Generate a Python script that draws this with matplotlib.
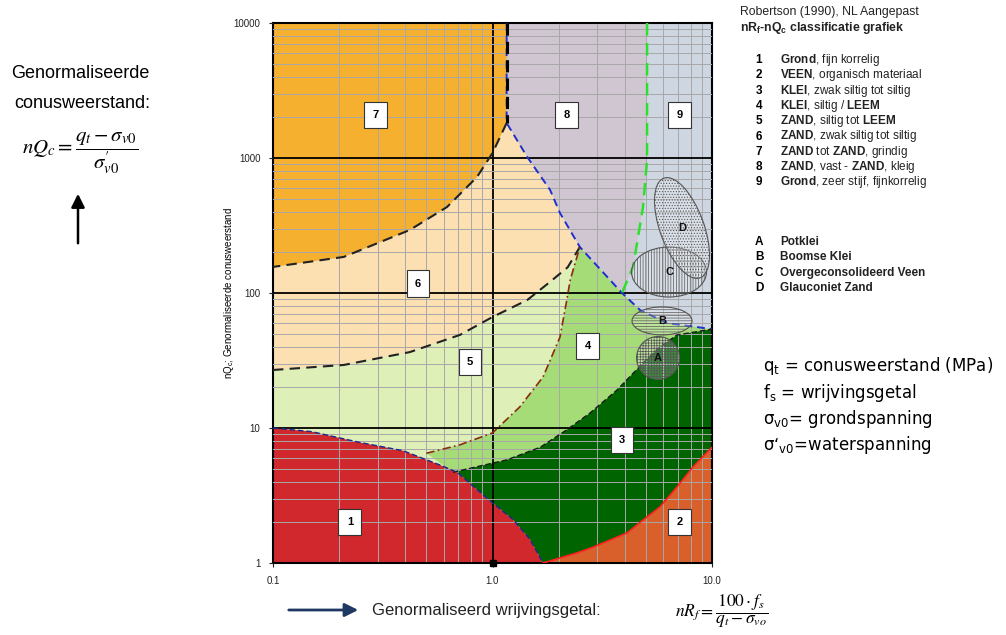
import numpy as np
import matplotlib.pyplot as plt
from matplotlib.patches import Ellipse
from matplotlib.transforms import IdentityTransform
from matplotlib.ticker import NullFormatter

plt.rcParams['font.family'] = ['Liberation Sans', 'DejaVu Sans']
plt.rcParams['mathtext.fontset'] = 'custom'
plt.rcParams['mathtext.rm'] = 'Liberation Sans'
plt.rcParams['mathtext.bf'] = 'Liberation Sans:bold'
plt.rcParams['mathtext.it'] = 'Liberation Sans:italic'
plt.rcParams['hatch.linewidth'] = 0.5

# grensen tussen de zones (nRf, nQc)
red_x = [0.1, 0.15, 0.25, 0.39, 0.58, 0.69, 0.97, 1.24, 1.48, 1.70]
red_y = [10, 9.4, 7.8, 6.8, 5.3, 4.7, 2.9, 2.1, 1.5, 1.0]

veen_x = [1.70, 2.43, 2.87, 4.10, 4.85, 5.79, 6.93, 8.19, 10]
veen_y = [1.0, 1.19, 1.31, 1.67, 2.08, 2.60, 3.66, 5.14, 7.2]

klei_x = [0.66, 0.82, 1.16, 1.65, 2.18, 2.78, 3.69, 4.85, 5.79, 6.93, 10]
klei_y = [4.7, 5.1, 5.8, 7.2, 9.7, 12.9, 19.1, 30.3, 39.8, 48.9, 54]

blue_x = [1.16, 1.16, 1.44, 1.83, 2.03, 2.50, 3.89, 4.70, 6.24, 10]
blue_y = [10000, 1816, 1017, 580, 391, 219, 100, 74.8, 59.9, 54]

green_x = [5.06, 5.06, 4.85, 4.37, 3.89]
green_y = [10000, 967, 433, 156, 100]

z76_x = [1.16, 1.0, 0.85, 0.62, 0.42, 0.21, 0.1]
z76_y = [1816, 1089, 723, 433, 293, 185, 156]

z56_x = [0.1, 0.21, 0.42, 0.71, 1.0, 1.44, 1.83, 2.2, 2.5]
z56_y = [26.9, 29.3, 36.5, 48.9, 66.4, 88.7, 121, 155, 219]

dd_x = [0.50, 0.71, 1.0, 1.33, 1.70, 2.03, 2.18, 2.26, 2.50]
dd_y = [6.5, 7.5, 9.2, 14.3, 23.9, 47.2, 88.7, 125, 219]

# zone labels
lab_txt = ['1', '2', '3', '4', '5', '6', '7', '8', '9']
lab_x = [0.224, 7.14, 3.89, 2.72, 0.79, 0.458, 0.294, 2.18, 7.14]
lab_y = [2.01, 2.01, 8.15, 40.5, 30.8, 117, 2083, 2083, 2083]

# ellipsen A-D
ell_txt = ['A', 'B', 'C', 'D']
ell_x = [5.68, 5.92, 6.37, 7.30]
ell_y = [33.0, 62.1, 143, 303]

dot_x = [1.0]
dot_y = [1.0]

legend_num = ['1', '2', '3', '4', '5', '6', '7', '8', '9']
legend_txt = [r'$\mathbf{Grond}$, fijn korrelig',
              r'$\mathbf{VEEN}$, organisch materiaal',
              r'$\mathbf{KLEI}$, zwak siltig tot siltig',
              r'$\mathbf{KLEI}$, siltig / $\mathbf{LEEM}$',
              r'$\mathbf{ZAND}$, siltig tot $\mathbf{LEEM}$',
              r'$\mathbf{ZAND}$, zwak siltig tot siltig',
              r'$\mathbf{ZAND}$ tot $\mathbf{ZAND}$, grindig',
              r'$\mathbf{ZAND}$, vast - $\mathbf{ZAND}$, kleig',
              r'$\mathbf{Grond}$, zeer stijf, fijnkorrelig']
legend2_num = ['A', 'B', 'C', 'D']
legend2_txt = ['Potklei', 'Boomse Klei', 'Overgeconsolideerd Veen', 'Glauconiet Zand']

col = {1: '#d0282c', 2: '#d9602a', 3: '#006400', 4: '#a6dc78', 5: '#def0b8',
       6: '#fde0b2', 7: '#f6b030', 8: '#cfc6d2', 9: '#ced6e2'}


def main():
    W, H = 1006, 635
    fig = plt.figure(figsize=(W / 100, H / 100), dpi=100)
    ax = fig.add_axes([273 / W, 1 - 563 / H, 439 / W, 540 / H])
    ax.set_xscale('log')
    ax.set_yscale('log')
    ax.set_xlim(0.1, 10)
    ax.set_ylim(1, 10000)

    # vlakken
    ax.fill([0.1, 10, 10, 0.1], [1, 1, 10000, 10000], color=col[9], lw=0, zorder=1)
    ax.fill(blue_x[:7] + green_x[::-1][1:], blue_y[:7] + green_y[::-1][1:],
            color=col[8], lw=0, zorder=1)
    ax.fill([0.1] + z76_x[::-1][:-1] + blue_x[1:6] + z56_x[::-1],
            [156] + z76_y[::-1][:-1] + blue_y[1:6] + z56_y[::-1],
            color=col[6], lw=0, zorder=1)
    ax.fill([0.1, 1.16] + z76_x, [10000, 10000] + z76_y, color=col[7], lw=0, zorder=1)
    ax.fill([0.1] + z56_x + blue_x[6:] + [10], [1] + z56_y + blue_y[6:] + [1],
            color=col[5], lw=0, zorder=1)
    ax.fill(dd_x + blue_x[6:] + klei_x[::-1], dd_y + blue_y[6:] + klei_y[::-1],
            color=col[4], lw=0, zorder=1)
    rx = [x for x in red_x if x >= 0.66]
    ry = red_y[len(red_x) - len(rx):]
    ax.fill(klei_x + veen_x[::-1] + rx[::-1], klei_y + veen_y[::-1] + ry[::-1],
            color=col[3], lw=0, zorder=1)
    ax.fill([0.1] + red_x, [1] + red_y, color=col[1], lw=0, zorder=1)
    ax.fill(veen_x + [10], veen_y + [1], color=col[2], lw=0, zorder=1)

    # grid
    ax.set_axisbelow(False)
    ax.grid(True, which='minor', color='#a8a8a8', lw=0.7, zorder=2)
    ax.grid(True, which='major', color='black', lw=1.3, zorder=2)

    # grenslijnen
    ax.plot(blue_x, blue_y, color='#1f2fd0', lw=1.4, ls=(0, (4, 2.5)), zorder=3)
    ax.plot(blue_x[:2], blue_y[:2], color='black', lw=2.2, ls=(0, (4, 2)), zorder=3)
    ax.plot(z76_x, z76_y, color='#222222', lw=1.5, ls=(0, (5, 3)), zorder=3)
    ax.plot(z56_x, z56_y, color='#222222', lw=1.5, ls=(0, (5, 3)), zorder=3)
    ax.plot(green_x, green_y, color='#2ee02e', lw=1.8, ls=(0, (5, 3)), zorder=3)
    ax.plot(dd_x, dd_y, color='#8a2a10', lw=1.2, ls=(0, (5, 2, 1, 2)), zorder=3)
    ax.plot(klei_x, klei_y, color='#1a1a1a', lw=1.0, ls=(0, (4, 2)), zorder=3)
    ax.plot(red_x, red_y, color='#1a2a90', lw=1.0, ls=(0, (4, 2)), zorder=3)
    ax.plot(veen_x, veen_y, color='#ff2020', lw=1.2, zorder=3)

    # ellipsen, in pixels rond het midden
    ell_size = [(43, 43, 0), (60, 28, 0), (75, 50, 0), (44, 106, 20)]
    ell_hatch = ['++++++', '------', '||||||', '......']
    for i in range(4):
        c = ax.transData.transform((ell_x[i], ell_y[i]))
        w, h, a = ell_size[i]
        e = Ellipse(c, w, h, angle=a, transform=IdentityTransform(),
                    facecolor=(1, 1, 1, 0.25), edgecolor='#555555',
                    hatch=ell_hatch[i], lw=0.8, zorder=4)
        ax.add_patch(e)
        ax.text(ell_x[i], ell_y[i], ell_txt[i], ha='center', va='center',
                fontsize=8, fontweight='bold', color='#111111', zorder=5)

    for t, x, y in zip(lab_txt, lab_x, lab_y):
        ax.text(x, y, t, ha='center', va='center', fontsize=8, fontweight='bold',
                zorder=6, bbox=dict(boxstyle='square,pad=0.75', fc='white',
                                    ec='#333333', lw=0.8))

    ax.plot(dot_x, dot_y, marker='s', ms=5, color='black', clip_on=False, zorder=7)

    # assen
    for s in ax.spines.values():
        s.set_linewidth(1.5)
    ax.set_xticks([0.1, 1, 10], labels=['0.1', '1.0', '10.0'])
    ax.set_yticks([1, 10, 100, 1000, 10000],
                  labels=['1', '10', '100', '1000', '10000'])
    ax.xaxis.set_minor_formatter(NullFormatter())
    ax.yaxis.set_minor_formatter(NullFormatter())
    ax.tick_params(which='minor', length=0)
    ax.tick_params(which='major', length=3, labelsize=7, colors='#222222', pad=6)
    ax.set_ylabel(r'nQ$_\mathregular{c}$; Genormaliseerde conusweerstand', fontsize=7)
    ax.yaxis.set_label_coords(-0.085, 0.5)

    # tekst rechts boven
    fig.text(740 / W, 1 - 12 / H, 'Robertson (1990), NL Aangepast',
             fontsize=8.8, va='center', color='#222222')
    fig.text(740 / W, 1 - 28 / H, r'nR$_\mathbf{f}$-nQ$_\mathbf{c}$ classificatie grafiek',
             fontsize=8.8, va='center', fontweight='bold', color='#222222')
    for i in range(9):
        y = 1 - (60 + i * 15.3) / H
        fig.text(759 / W, y, legend_num[i], fontsize=8.5, fontweight='bold',
                 ha='center', va='center')
        fig.text(780 / W, y, legend_txt[i], fontsize=8.5, va='center', color='#222222')
    for i in range(4):
        y = 1 - (242 + i * 15.3) / H
        fig.text(759 / W, y, legend2_num[i], fontsize=8.5, fontweight='bold',
                 ha='center', va='center')
        fig.text(780 / W, y, legend2_txt[i], fontsize=8.5, fontweight='bold',
                 va='center', color='#222222')

    # verklaring rechts
    rt = [r'q$_\mathregular{t}$ = conusweerstand (MPa)',
          r'f$_\mathregular{s}$ = wrijvingsgetal',
          r'σ$_\mathregular{v0}$= grondspanning',
          r'σ‘$_\mathregular{v0}$=waterspanning']
    for i, t in enumerate(rt):
        fig.text(763 / W, 1 - (366 + i * 26.5) / H, t, fontsize=12, va='center',
                 family=['DejaVu Sans'], math_fontfamily='dejavusans')

    # links
    fig.text(80 / W, 1 - 73 / H, 'Genormaliseerde', fontsize=13, ha='center', va='center')
    fig.text(82 / W, 1 - 103 / H, 'conusweerstand:', fontsize=13, ha='center', va='center')
    fig.text(80 / W, 1 - 153 / H, r"$nQ_c=\dfrac{q_t-\sigma_{v0}}{\sigma^{\prime}_{v0}}$",
             fontsize=15, ha='center', va='center', math_fontfamily='stix')
    ax.annotate('', xy=(78 / W, 1 - 191 / H), xytext=(78 / W, 1 - 246 / H),
                xycoords='figure fraction', annotation_clip=False,
                arrowprops=dict(arrowstyle='-|>', color='black', lw=1.8,
                                mutation_scale=20))

    # onder
    ax.annotate('', xy=(361 / W, 1 - 610 / H), xytext=(286 / W, 1 - 610 / H),
                xycoords='figure fraction', annotation_clip=False,
                arrowprops=dict(arrowstyle='-|>', color='#1f3864', lw=2,
                                mutation_scale=20))
    fig.text(372 / W, 1 - 610 / H, 'Genormaliseerd wrijvingsgetal:', fontsize=12,
             va='center', color='#222222')
    fig.text(722 / W, 1 - 611 / H, r'$nR_f=\dfrac{100\cdot f_s}{q_t-\sigma_{vo}}$',
             fontsize=12.5, ha='center', va='center', math_fontfamily='stix')

    fig.savefig('out.png', dpi=100)


if __name__ == '__main__':
    main()
